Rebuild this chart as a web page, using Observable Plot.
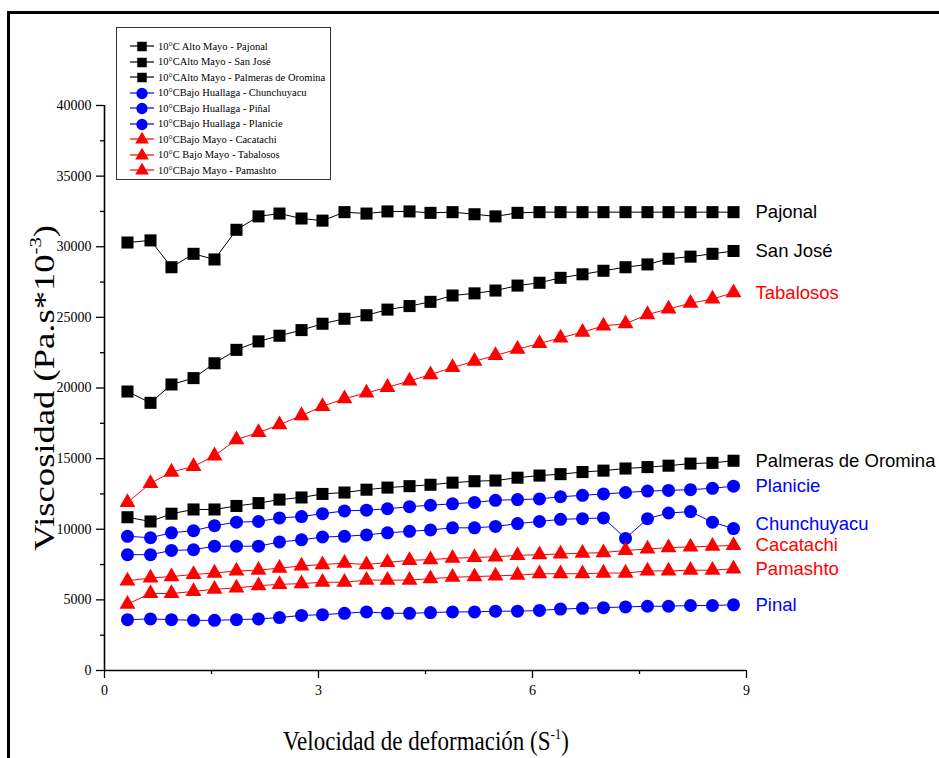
<!DOCTYPE html>
<html>
<head>
<meta charset="utf-8">
<script src="https://cdn.jsdelivr.net/npm/d3@7"></script>
<script src="https://cdn.jsdelivr.net/npm/@observablehq/plot@0.6"></script>
<style>
  html, body { margin: 0; padding: 0; background: #fff; }
  #wrap { position: relative; width: 939px; height: 758px; overflow: hidden; }
  #border { position: absolute; left: 7px; top: 11px; right: -10px; bottom: -10px;
            border-top: 3px solid #000; border-left: 3px solid #000; pointer-events: none; }
  #legend { position: absolute; left: 116px; top: 27px; width: 215px; height: 153px;
            border: 1px solid #333; background: #fff; box-sizing: border-box;
            font-family: "Liberation Serif", "Times New Roman", serif; font-size: 10.5px; color: #000; }
  .lg-row { position: absolute; left: 0; height: 15px; display: flex; align-items: center; }
  .lg-row svg { display: block; }
  .lg-row span { margin-left: 4px; white-space: nowrap; }
</style>
</head>
<body>
<div id="wrap"><div id="border"></div></div>
<script>
// Shear rate (x) values
const shearRate = [0.322, 0.645, 0.939, 1.248, 1.542, 1.850, 2.159, 2.453, 2.762, 3.056,
  3.364, 3.673, 3.967, 4.276, 4.570, 4.879, 5.187, 5.481, 5.790, 6.098,
  6.393, 6.701, 6.995, 7.304, 7.612, 7.907, 8.215, 8.523, 8.818];

// Viscosity series (Pa.s*10^-3)
const pajonal = [30300, 30450, 28550, 29500, 29100, 31200, 32150, 32350, 32000, 31850,
  32450, 32350, 32500, 32500, 32400, 32450, 32300, 32150, 32400, 32450,
  32450, 32450, 32450, 32450, 32450, 32450, 32450, 32450, 32450];
const sanJose = [19750, 18950, 20250, 20700, 21750, 22700, 23300, 23700, 24100, 24550,
  24900, 25150, 25550, 25800, 26100, 26550, 26700, 26900, 27250, 27450,
  27800, 28050, 28300, 28550, 28750, 29150, 29300, 29500, 29700];
const palmeras = [10850, 10550, 11100, 11400, 11400, 11650, 11850, 12100, 12250, 12500,
  12600, 12800, 12950, 13050, 13150, 13300, 13400, 13450, 13650, 13800,
  13900, 14050, 14150, 14300, 14400, 14500, 14650, 14700, 14850];
const chunchuyacu = [8200, 8200, 8500, 8550, 8800, 8800, 8800, 9100, 9250, 9450,
  9500, 9600, 9750, 9850, 9950, 10100, 10100, 10200, 10400, 10550,
  10700, 10750, 10800, 9350, 10750, 11150, 11250, 10500, 10050];
const pinal = [3600, 3650, 3600, 3550, 3550, 3600, 3650, 3750, 3900, 3950,
  4050, 4150, 4050, 4050, 4100, 4150, 4150, 4200, 4200, 4250,
  4350, 4400, 4450, 4500, 4550, 4550, 4600, 4600, 4650];
const planicie = [9500, 9400, 9750, 9900, 10250, 10500, 10550, 10800, 10900, 11100,
  11300, 11350, 11450, 11600, 11700, 11800, 11900, 12050, 12100, 12150,
  12300, 12400, 12500, 12600, 12700, 12750, 12800, 12900, 13050];
const cacatachi = [6350, 6550, 6650, 6800, 6900, 7050, 7100, 7250, 7400, 7500,
  7600, 7500, 7650, 7800, 7850, 7950, 8000, 8050, 8150, 8200,
  8250, 8300, 8350, 8500, 8600, 8700, 8750, 8800, 8850];
const tabalosos = [11900, 13250, 14050, 14450, 15200, 16350, 16850, 17400, 18050, 18700,
  19250, 19650, 20050, 20500, 20950, 21450, 21900, 22300, 22750, 23150,
  23550, 23950, 24400, 24550, 25200, 25600, 26000, 26300, 26750];
const pamashto = [4700, 5450, 5450, 5600, 5750, 5850, 6000, 6100, 6150, 6250,
  6250, 6400, 6400, 6400, 6500, 6600, 6650, 6700, 6750, 6850,
  6850, 6850, 6900, 6900, 7050, 7050, 7100, 7100, 7200];

const legendLabels = ["10°C Alto Mayo - Pajonal", "10°CAlto Mayo - San José", "10°CAlto Mayo - Palmeras de Oromina",
  "10°CBajo Huallaga - Chunchuyacu", "10°CBajo Huallaga - Piñal", "10°CBajo Huallaga - Planicie",
  "10°CBajo Mayo - Cacatachi", "10°C Bajo Mayo - Tabalosos", "10°CBajo Mayo - Pamashto"];
const endLabels = ["Pajonal", "San José", "Palmeras de Oromina", "Chunchuyacu", "Pinal", "Planicie",
  "Cacatachi", "Tabalosos", "Pamashto"];
const seriesValues = [pajonal, sanJose, palmeras, chunchuyacu, pinal, planicie, cacatachi, tabalosos, pamashto];
const seriesColor = ["#000000", "#000000", "#000000", "#0000ff", "#0000ff", "#0000ff", "#ff0000", "#ff0000", "#ff0000"];
const seriesSymbol = ["square", "square", "square", "circle", "circle", "circle", "triangle", "triangle", "triangle"];
const labelDy = [0, 0, 0, -4, 0, 0, 0, 0, 0];

const yMajor = d3.range(0, 40001, 5000);
const yMinor = d3.range(2500, 40000, 5000);
const xMajor = [0, 3, 6, 9];
const xMinor = [1.5, 4.5, 7.5];

const symR = {square: 6.8, circle: 6.5, triangle: 5.9};

const series = seriesValues.map((vals, i) => ({
  name: endLabels[i], color: seriesColor[i], symbol: seriesSymbol[i], dy: labelDy[i],
  data: vals.map((v, j) => ({x: shearRate[j], y: v}))
}));

const marks = [];
for (const s of series) {
  marks.push(Plot.line(s.data, {x: "x", y: "y", stroke: s.color, strokeWidth: 1}));
}
for (const s of series) {
  marks.push(Plot.dot(s.data, {x: "x", y: "y", symbol: s.symbol, r: symR[s.symbol], fill: s.color, stroke: "none"}));
}
for (const s of series) {
  const last = s.data[s.data.length - 1];
  marks.push(Plot.text([last], {x: "x", y: "y", text: () => s.name, dx: 22, dy: s.dy, textAnchor: "start",
    fill: s.color, fontSize: 18.5, fontFamily: "Liberation Sans, Arial, sans-serif"}));
}

const chart = Plot.plot({
  width: 939, height: 758,
  marginLeft: 104, marginRight: 193, marginTop: 105, marginBottom: 88,
  style: {background: "transparent", fontFamily: "Liberation Serif, Times New Roman, serif", color: "#000"},
  x: {domain: [0, 9]},
  y: {domain: [0, 40000]},
  marks: [
    Plot.axisY({ticks: yMajor, tickSize: 8, tickPadding: 5, fontSize: 14, tickFormat: d => String(d), label: null, strokeWidth: 1.3}),
    Plot.axisY({ticks: yMinor, tickSize: 4, tickFormat: () => "", label: null, strokeWidth: 1.3}),
    Plot.axisX({ticks: xMajor, tickSize: 8, tickPadding: 7, fontSize: 14, tickFormat: d => String(d), label: null, strokeWidth: 1.3}),
    Plot.axisX({ticks: xMinor, tickSize: 4, tickFormat: () => "", label: null, strokeWidth: 1.3}),
    Plot.ruleX([0], {y1: 0, y2: 40000, stroke: "#000", strokeWidth: 1.6}),
    Plot.ruleY([0], {x1: 0, x2: 9, stroke: "#000", strokeWidth: 1.6}),
    ...marks
  ]
});

const wrap = document.getElementById("wrap");
wrap.insertBefore(chart, wrap.firstChild);

// Axis titles with superscripts
const svg = d3.select(chart);
const yt = svg.append("text")
  .attr("transform", "translate(54,388) rotate(-90) scale(1.22,1)")
  .attr("text-anchor", "middle")
  .attr("font-family", "Liberation Serif, Times New Roman, serif")
  .attr("font-size", 30).attr("fill", "#000");
yt.append("tspan").text("Viscosidad (Pa.s*10");
yt.append("tspan").attr("font-size", 17).attr("dy", -13).text("-3");
yt.append("tspan").attr("dy", 13).text(")");

const xt = svg.append("text")
  .attr("transform", "translate(426,750) scale(1,1.15)")
  .attr("text-anchor", "middle")
  .attr("font-family", "Liberation Serif, Times New Roman, serif")
  .attr("font-size", 23).attr("fill", "#000");
xt.append("tspan").text("Velocidad de deformación (S");
xt.append("tspan").attr("font-size", 13).attr("dy", -10).text("-1");
xt.append("tspan").attr("dy", 10).text(")");

// Legend
const legend = d3.select(wrap).append("div").attr("id", "legend");
legendLabels.forEach((lab, i) => {
  const row = legend.append("div").attr("class", "lg-row").style("top", (10.5 + i * 15.5) + "px").style("left", "13px");
  const sw = row.append("svg").attr("width", 24).attr("height", 14);
  sw.append("line").attr("x1", 0).attr("x2", 24).attr("y1", 7).attr("y2", 7).attr("stroke", seriesColor[i]).attr("stroke-width", 1.2);
  const sym = seriesSymbol[i] === "square" ? d3.symbolSquare : seriesSymbol[i] === "circle" ? d3.symbolCircle : d3.symbolTriangle;
  const size = seriesSymbol[i] === "triangle" ? 80 : seriesSymbol[i] === "circle" ? 100 : 90;
  sw.append("path").attr("d", d3.symbol(sym, size)()).attr("transform", "translate(12,7.5)").attr("fill", seriesColor[i]);
  row.append("span").text(lab);
});
</script>
</body>
</html>
